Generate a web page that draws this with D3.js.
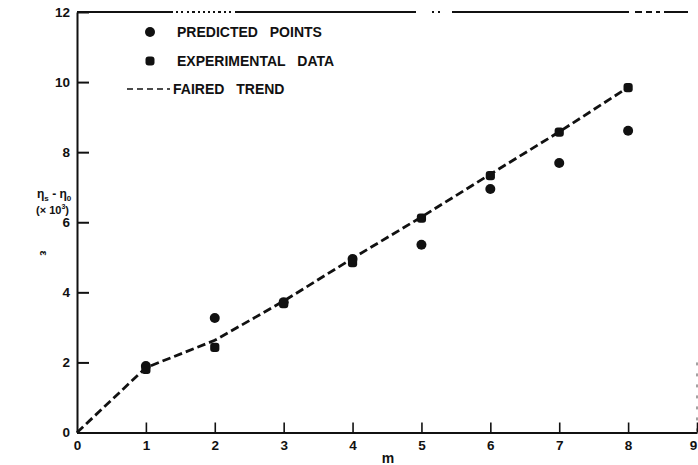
<!DOCTYPE html>
<html>
<head>
<meta charset="utf-8">
<script src="https://cdn.jsdelivr.net/npm/d3@7"></script>
<style>
  html, body { margin: 0; padding: 0; background: #fff; }
  svg { display: block; }
  text { font-family: "Liberation Sans", "DejaVu Sans", sans-serif; font-weight: bold; fill: #111; }
</style>
</head>
<body>
<script>
// Mode number m
const mValues = [1, 2, 3, 4, 5, 6, 7, 8];
// Predicted values (x 10^3)
const predicted = [1.9, 3.27, 3.72, 4.95, 5.36, 6.95, 7.69, 8.61];
// Experimental values (x 10^3)
const experimental = [1.8, 2.43, 3.68, 4.85, 6.12, 7.33, 8.57, 9.84];
// Faired trend curve
const trendM = [0, 1, 2, 3, 4, 5, 6, 7, 8];
const trendY = [0, 1.85, 2.63, 3.75, 4.97, 6.15, 7.37, 8.58, 9.85];
// Axis ticks
const xTicks = [0, 1, 2, 3, 4, 5, 6, 7, 8, 9];
const yTicks = [0, 2, 4, 6, 8, 10, 12];
const legendLabels = ["PREDICTED POINTS", "EXPERIMENTAL DATA", "FAIRED TREND"];

const W = 698, H = 465;
const svg = d3.select("body").append("svg").attr("width", W).attr("height", H);

const x = d3.scaleLinear().domain([0, 9]).range([77, 697]);
const y = d3.scaleLinear().domain([0, 12]).range([432.5, 12]);

// Top frame line, broken like the printed border
svg.append("line")
  .attr("x1", x(0)).attr("x2", W).attr("y1", y(12)).attr("y2", y(12))
  .attr("stroke", "#111").attr("stroke-width", 1.8)
  .attr("stroke-dasharray", "96,3,2,3,2,4,2,3,3,3,2,3,2,3,2,3,2,3,3,3,2,3,2,4,181,16,2,4,2,12,177,6,7,4,6,4,4,4,24");

// Faint right edge near the bottom
svg.append("line")
  .attr("x1", x(9)).attr("x2", x(9)).attr("y1", y(2)).attr("y2", y(0))
  .attr("stroke", "#444").attr("stroke-width", 1).attr("stroke-dasharray", "3,8");

// Left axis with inward ticks
const yAxis = svg.append("g")
  .attr("transform", `translate(${x(0)},0)`)
  .call(d3.axisLeft(y).tickValues(yTicks).tickSizeInner(-12).tickSizeOuter(0).tickPadding(7));
yAxis.select(".domain").attr("stroke", "#111").attr("stroke-width", 2);
yAxis.selectAll(".tick line").attr("stroke", "#111").attr("stroke-width", 2);
yAxis.selectAll(".tick text").style("font-size", "13.5px").attr("fill", "#111");

// Bottom axis with upward ticks
const xAxis = svg.append("g")
  .attr("transform", `translate(0,${y(0)})`)
  .call(d3.axisBottom(x).tickValues(xTicks).tickSizeInner(-10).tickSizeOuter(0).tickPadding(8));
xAxis.select(".domain").attr("stroke", "#111").attr("stroke-width", 2);
xAxis.selectAll(".tick line").attr("stroke", "#111").attr("stroke-width", 1.6)
  .attr("display", d => d === 0 ? "none" : null);
xAxis.selectAll(".tick text").style("font-size", "13.5px").attr("fill", "#111")
  .attr("dx", d => d === 9 ? -4 : 0);

// Axis titles
svg.append("text").attr("x", 388).attr("y", 463).attr("text-anchor", "middle")
  .style("font-size", "14px").text("m");

const yl = svg.append("text").attr("x", 37).attr("y", 198).style("font-size", "12px");
yl.append("tspan").text("η");
yl.append("tspan").attr("dy", 3).style("font-size", "8px").text("s");
yl.append("tspan").attr("dy", -3).text(" - η");
yl.append("tspan").attr("dy", 3).style("font-size", "8px").text("0");
const yl2 = svg.append("text").attr("x", 36).attr("y", 214).style("font-size", "11px");
yl2.append("tspan").text("(× 10");
yl2.append("tspan").attr("dy", -5).style("font-size", "7px").text("3");
yl2.append("tspan").attr("dy", 5).text(")");
svg.append("text").attr("transform", "translate(40,253) rotate(90)")
  .attr("text-anchor", "middle").style("font-size", "11px").text("ε");

// Faired trend
const trend = trendM.map((m, i) => [m, trendY[i]]);
svg.append("path")
  .datum(trend)
  .attr("d", d3.line().x(d => x(d[0])).y(d => y(d[1])))
  .attr("fill", "none").attr("stroke", "#111").attr("stroke-width", 2.8)
  .attr("stroke-dasharray", "8.5,4");

// Experimental data (small rounded squares)
svg.append("g").selectAll("rect")
  .data(mValues.map((m, i) => [m, experimental[i]]))
  .join("rect")
  .attr("x", d => x(d[0]) - 4.6).attr("y", d => y(d[1]) - 4.6)
  .attr("width", 9.2).attr("height", 9.2).attr("rx", 3)
  .attr("fill", "#111");

// Predicted points (circles)
svg.append("g").selectAll("circle")
  .data(mValues.map((m, i) => [m, predicted[i]]))
  .join("circle")
  .attr("cx", d => x(d[0])).attr("cy", d => y(d[1])).attr("r", 5)
  .attr("fill", "#111");

// Legend
const lg = svg.append("g");
lg.append("circle").attr("cx", 150).attr("cy", 32).attr("r", 5).attr("fill", "#111");
lg.append("rect").attr("x", 145.5).attr("y", 56.5).attr("width", 9).attr("height", 9).attr("rx", 3).attr("fill", "#111");
lg.append("line").attr("x1", 127).attr("x2", 170).attr("y1", 89).attr("y2", 89)
  .attr("stroke", "#111").attr("stroke-width", 1.6).attr("stroke-dasharray", "6,4");
const lx = [177, 177, 173];
const ly = [32, 61, 89];
legendLabels.forEach((t, i) => {
  lg.append("text").attr("x", lx[i]).attr("y", ly[i]).attr("dy", "0.36em")
    .style("font-size", "14px").style("word-spacing", "8px").text(t);
});
</script>
</body>
</html>
